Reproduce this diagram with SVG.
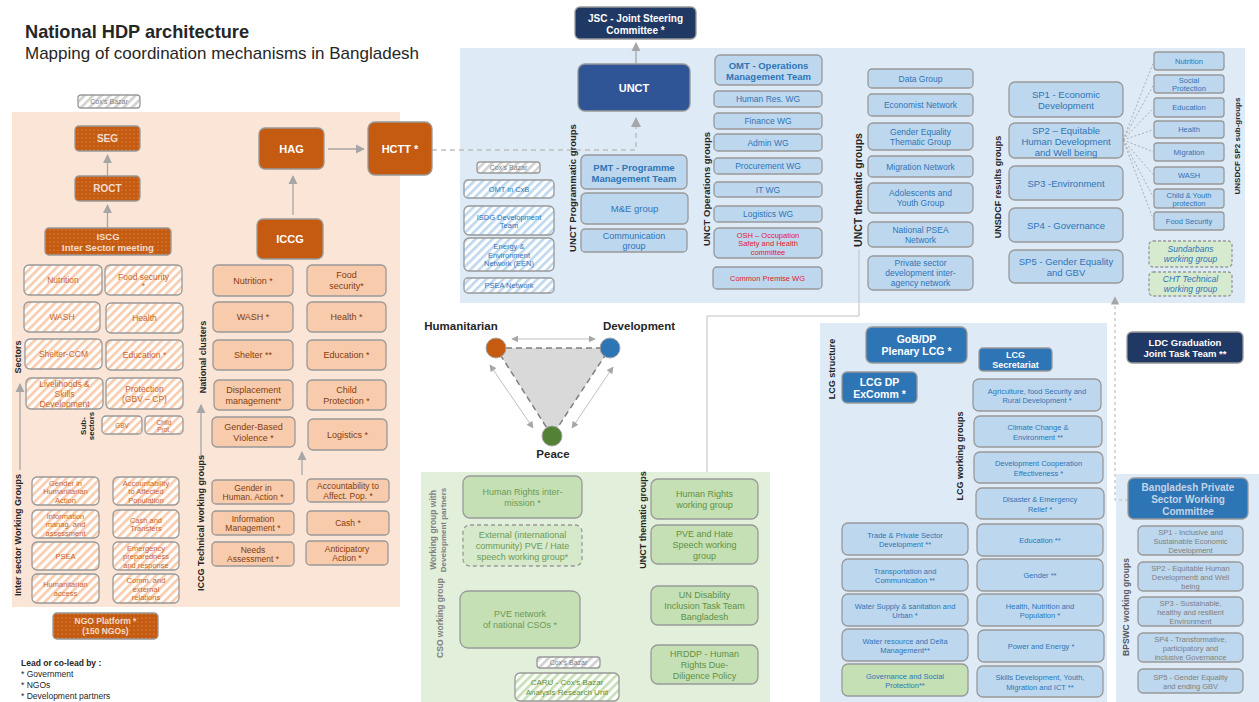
<svg xmlns="http://www.w3.org/2000/svg" width="1259" height="702" viewBox="0 0 1259 702">
<defs>
<style>
text{font-family:"Liberation Sans",Arial,sans-serif;text-anchor:middle;dominant-baseline:central}
.l{text-anchor:start;dominant-baseline:auto;fill:#262626}
.v{font-weight:bold;font-size:9px;fill:#262626}
.vg{font-weight:bold;font-size:8.5px;fill:#808080}
.bx{stroke:#999;stroke-width:1.3}
.oh{fill:url(#hO)}
.od{fill:url(#dO)}
.os{fill:#c55a11}
.oc{fill:#f8cbad}
.bh{fill:url(#hB)}
.gh{fill:url(#hG)}
.nh{fill:url(#hN)}
.lb{fill:#bdd7ee}
.gb{fill:#c5e0b4}
.db{fill:#2e75b6}
.nv{fill:#1f3864}
.to{fill:#c8662a;font-size:7.5px}
.tc{fill:#843c0c;font-size:9px}
.tw{fill:#fff;font-weight:bold}
.tf{fill:#f3dccb;font-weight:bold}
.tb{fill:#2e75b6}
.tr{fill:#e0202a;font-size:7.5px}
.tg{fill:#5f9144;font-size:9px}
.tgr{fill:#808080;font-size:7.5px}
.cx{fill:#7f7f7f;font-size:7px}
.conn{stroke:#a6a6a6;stroke-width:1.3;fill:none}
.dash{stroke:#bfbfbf;stroke-width:1.5;fill:none;stroke-dasharray:5,4}
.fan{stroke:#a6a6a6;stroke-width:0.9;fill:none;stroke-dasharray:2,2}
</style>
<pattern id="hO" width="6" height="6" patternUnits="userSpaceOnUse" patternTransform="rotate(45)"><rect width="6" height="6" fill="#fff"/><rect width="2.6" height="6" fill="#f8cbad"/></pattern>
<pattern id="hB" width="6" height="6" patternUnits="userSpaceOnUse" patternTransform="rotate(45)"><rect width="6" height="6" fill="#fff"/><rect width="2.6" height="6" fill="#bdd7ee"/></pattern>
<pattern id="hG" width="6" height="6" patternUnits="userSpaceOnUse" patternTransform="rotate(45)"><rect width="6" height="6" fill="#fff"/><rect width="2.6" height="6" fill="#d0d0d0"/></pattern>
<pattern id="hN" width="6" height="6" patternUnits="userSpaceOnUse" patternTransform="rotate(45)"><rect width="6" height="6" fill="#fff"/><rect width="2.6" height="6" fill="#c5e0b4"/></pattern>
<pattern id="dO" width="4" height="4" patternUnits="userSpaceOnUse"><rect width="4" height="4" fill="#c55a11"/><circle cx="2" cy="2" r="0.6" fill="#e6a77a"/></pattern>
<marker id="ah" viewBox="0 0 10 10" refX="9" refY="5" markerWidth="7" markerHeight="7" orient="auto-start-reverse"><path d="M0,0 L10,5 L0,10 z" fill="#a6a6a6"/></marker>
</defs>

<rect width="1259" height="702" fill="#fff"/>

<g id="title">
<text class="l" x="25" y="38" style="font-size:18.2px;font-weight:bold">National HDP architecture</text>
<text class="l" x="25" y="59" style="font-size:17px">Mapping of coordination mechanisms in Bangladesh</text>
</g>

<g id="panels">
<rect x="12" y="112" width="388" height="495" fill="#fbe5d6"/>
<rect x="460" y="48" width="785" height="255" fill="#deebf7"/>
<rect x="421" y="472" width="349" height="230" fill="#e2efda"/>
<rect x="820" y="323" width="287" height="379" fill="#deebf7"/>
<rect x="1116" y="474" width="143" height="228" fill="#deebf7"/>
</g>

<g id="connectors">
<line class="conn" x1="107.5" y1="176" x2="107.5" y2="155" marker-end="url(#ah)"/>
<line class="conn" x1="107.5" y1="228" x2="107.5" y2="205" marker-end="url(#ah)"/>
<line class="conn" x1="293" y1="215" x2="293" y2="176" marker-end="url(#ah)"/>
<line class="conn" x1="328" y1="149" x2="364" y2="149" marker-end="url(#ah)"/>
<line class="conn" x1="20" y1="470" x2="20" y2="384" marker-end="url(#ah)"/>
<line class="conn" x1="201" y1="458" x2="201" y2="405" marker-end="url(#ah)"/>
<line class="conn" x1="302" y1="475" x2="302" y2="452" marker-end="url(#ah)"/>
<line class="conn" x1="636" y1="64" x2="636" y2="43" marker-end="url(#ah)"/>
<path class="dash" d="M432,150 H636 V118" marker-end="url(#ah)"/>
<polyline class="conn" points="859,250 859,316 707,316 707,472" style="stroke:#bfbfbf;stroke-width:1"/>
<path class="dash" d="M1128,500 H1115 V297" marker-end="url(#ah)" style="stroke-width:1.2;stroke-dasharray:3,3"/>
<line class="fan" x1="1123" y1="140" x2="1154" y2="61"/>
<line class="fan" x1="1123" y1="140" x2="1154" y2="84"/>
<line class="fan" x1="1123" y1="140" x2="1154" y2="107.5"/>
<line class="fan" x1="1123" y1="140" x2="1154" y2="129.5"/>
<line class="fan" x1="1123" y1="140" x2="1154" y2="152"/>
<line class="fan" x1="1123" y1="140" x2="1154" y2="175.5"/>
<line class="fan" x1="1123" y1="140" x2="1154" y2="198.5"/>
<line class="fan" x1="1123" y1="140" x2="1154" y2="221"/>
<line class="conn" x1="512" y1="339" x2="595" y2="339" marker-start="url(#ah)" marker-end="url(#ah)" style="stroke:#bfbfbf;stroke-width:1"/>
<line class="conn" x1="490" y1="365" x2="533" y2="428" marker-start="url(#ah)" marker-end="url(#ah)" style="stroke:#bfbfbf;stroke-width:1"/>
<line class="conn" x1="613" y1="367" x2="572" y2="428" marker-start="url(#ah)" marker-end="url(#ah)" style="stroke:#bfbfbf;stroke-width:1"/>
</g>

<g id="coxs1"><rect class="bx gh" x="78" y="95" width="62" height="13" rx="3"/><text class="cx" x="109" y="101.5">Cox's Bazar</text></g>
<g id="seg"><rect class="bx od" x="75" y="126" width="65" height="25" rx="4"/><text class="tf" x="107.5" y="138.5" style="font-size:10px">SEG</text></g>
<g id="roct"><rect class="bx od" x="75" y="176" width="65" height="25" rx="4"/><text class="tf" x="107.5" y="188.5" style="font-size:10px">ROCT</text></g>
<g id="iscg"><rect class="bx od" x="45" y="228" width="126" height="27" rx="4"/><text class="tf" x="108" y="236" style="font-size:9.5px"><tspan x="108">ISCG</tspan><tspan x="108" dy="11">Inter Sector meeting</tspan></text></g>
<g id="hag"><rect class="bx os" x="259" y="128" width="65" height="41" rx="6"/><text class="tw" x="291.5" y="148.5" style="font-size:11px">HAG</text></g>
<g id="hctt"><rect class="bx os" x="368" y="122" width="64" height="53" rx="7"/><text class="tw" x="400" y="148.5" style="font-size:11px">HCTT *</text></g>
<g id="iccg"><rect class="bx os" x="257" y="219" width="66" height="40" rx="6"/><text class="tw" x="290" y="239" style="font-size:11px">ICCG</text></g>

<g id="sector-labels">
<text class="v" transform="translate(18,357) rotate(-90)">Sectors</text>
<text class="v" transform="translate(83,426) rotate(-90)" style="font-size:8px">Sub-</text>
<text class="v" transform="translate(91,426) rotate(-90)" style="font-size:8px">sectors</text>
<text class="v" transform="translate(18,535) rotate(-90)">Inter sector Working Groups</text>
<text class="v" transform="translate(203,357) rotate(-90)">National clusters</text>
<text class="v" transform="translate(201,523) rotate(-90)">ICCG Technical working groups</text>
</g>

<g id="s-nutrition"><rect class="bx oh" x="24" y="265" width="78" height="30" rx="5"/><text class="to" x="63" y="280" style="font-size:8.5px">Nutrition</text></g>
<g id="s-food"><rect class="bx oh" x="105" y="265" width="77" height="30" rx="5"/><text class="to" x="143.5" y="277" style="font-size:8.5px"><tspan x="143.5">Food security</tspan><tspan x="143.5" dy="9">*</tspan></text></g>
<g id="s-wash"><rect class="bx oh" x="24" y="302" width="76" height="30" rx="5"/><text class="to" x="62" y="317" style="font-size:8.5px">WASH</text></g>
<g id="s-health"><rect class="bx oh" x="106" y="303" width="77" height="30" rx="5"/><text class="to" x="144.5" y="318" style="font-size:8.5px">Health</text></g>
<g id="s-shelter"><rect class="bx oh" x="25" y="339" width="77" height="30" rx="5"/><text class="to" x="63.5" y="354" style="font-size:8.5px">Shelter-CCM</text></g>
<g id="s-edu"><rect class="bx oh" x="106" y="340" width="77" height="30" rx="5"/><text class="to" x="144.5" y="355" style="font-size:8.5px">Education *</text></g>
<g id="s-liv"><rect class="bx oh" x="26" y="378" width="77" height="31" rx="5"/><text class="to" x="64.5" y="383.5" style="font-size:8.5px"><tspan x="64.5">Livelihoods &amp;</tspan><tspan x="64.5" dy="10">Skills</tspan><tspan x="64.5" dy="10">Development</tspan></text></g>
<g id="s-prot"><rect class="bx oh" x="106" y="378" width="77" height="31" rx="5"/><text class="to" x="144.5" y="388.5" style="font-size:8.5px"><tspan x="144.5">Protection</tspan><tspan x="144.5" dy="10">(GBV – CP)</tspan></text></g>
<g id="s-gbv"><rect class="bx oh" x="102" y="416" width="40" height="18" rx="4"/><text class="to" x="122" y="425" style="font-size:6.5px">GBV</text></g>
<g id="s-cp"><rect class="bx oh" x="145" y="416" width="38" height="18" rx="4"/><text class="to" x="164" y="421.5" style="font-size:6.5px"><tspan x="164">Child</tspan><tspan x="164" dy="7">Prot.</tspan></text></g>

<g id="w-gender"><rect class="bx oh" x="32" y="477" width="67" height="28" rx="5"/><text class="to" x="65.5" y="482.5"><tspan x="65.5">Gender in</tspan><tspan x="65.5" dy="8.5">Humanitarian</tspan><tspan x="65.5" dy="8.5">Action</tspan></text></g>
<g id="w-aap"><rect class="bx oh" x="113" y="477" width="66" height="28" rx="5"/><text class="to" x="146" y="482.5"><tspan x="146">Accountability</tspan><tspan x="146" dy="8.5">to Affected</tspan><tspan x="146" dy="8.5">Population</tspan></text></g>
<g id="w-im"><rect class="bx oh" x="32" y="510" width="67" height="28" rx="5"/><text class="to" x="65.5" y="515.5"><tspan x="65.5">Information</tspan><tspan x="65.5" dy="8.5">manag. and</tspan><tspan x="65.5" dy="8.5">assessment</tspan></text></g>
<g id="w-cash"><rect class="bx oh" x="113" y="510" width="66" height="28" rx="5"/><text class="to" x="146" y="519.8"><tspan x="146">Cash and</tspan><tspan x="146" dy="8.5">Transfers</tspan></text></g>
<g id="w-psea"><rect class="bx oh" x="32" y="542" width="67" height="28" rx="5"/><text class="to" x="65.5" y="556">PSEA</text></g>
<g id="w-epr"><rect class="bx oh" x="113" y="542" width="66" height="28" rx="5"/><text class="to" x="146" y="547.5"><tspan x="146">Emergency</tspan><tspan x="146" dy="8.5">preparedness</tspan><tspan x="146" dy="8.5">and response</tspan></text></g>
<g id="w-access"><rect class="bx oh" x="32" y="574" width="67" height="29" rx="5"/><text class="to" x="65.5" y="584.3"><tspan x="65.5">Humanitarian</tspan><tspan x="65.5" dy="8.5">access</tspan></text></g>
<g id="w-comm"><rect class="bx oh" x="113" y="574" width="66" height="29" rx="5"/><text class="to" x="146" y="580"><tspan x="146">Comm. and</tspan><tspan x="146" dy="8.5">external</tspan><tspan x="146" dy="8.5">relations</tspan></text></g>

<g id="ngo"><rect class="bx od" x="53" y="613" width="105" height="26" rx="4"/><text class="tf" x="105.5" y="621" style="font-size:8.5px"><tspan x="105.5">NGO Platform *</tspan><tspan x="105.5" dy="10">(150 NGOs)</tspan></text></g>

<g id="legend">
<text class="l" x="21" y="666" style="font-size:8.5px;font-weight:bold">Lead or co-lead by :</text>
<text class="l" x="21" y="677" style="font-size:8.5px">* Government</text>
<text class="l" x="21" y="688" style="font-size:8.5px">* NGOs</text>
<text class="l" x="21" y="699" style="font-size:8.5px">* Development partners</text>
</g>

<g id="c-nut"><rect class="bx oc" x="213" y="265" width="80" height="31" rx="5"/><text class="tc" x="253" y="280.5">Nutrition *</text></g>
<g id="c-food"><rect class="bx oc" x="307" y="265" width="79" height="31" rx="5"/><text class="tc" x="346.5" y="275"><tspan x="346.5">Food</tspan><tspan x="346.5" dy="11">security*</tspan></text></g>
<g id="c-wash"><rect class="bx oc" x="213" y="302" width="80" height="30" rx="5"/><text class="tc" x="253" y="317">WASH *</text></g>
<g id="c-health"><rect class="bx oc" x="307" y="302" width="79" height="30" rx="5"/><text class="tc" x="346.5" y="317">Health *</text></g>
<g id="c-shelter"><rect class="bx oc" x="213" y="340" width="80" height="30" rx="5"/><text class="tc" x="253" y="355">Shelter **</text></g>
<g id="c-edu"><rect class="bx oc" x="307" y="340" width="79" height="30" rx="5"/><text class="tc" x="346.5" y="355">Education *</text></g>
<g id="c-disp"><rect class="bx oc" x="214" y="380" width="79" height="30" rx="5"/><text class="tc" x="253.5" y="390"><tspan x="253.5">Displacement</tspan><tspan x="253.5" dy="10.5">management*</tspan></text></g>
<g id="c-cp"><rect class="bx oc" x="307" y="380" width="79" height="30" rx="5"/><text class="tc" x="346.5" y="390"><tspan x="346.5">Child</tspan><tspan x="346.5" dy="10.5">Protection *</tspan></text></g>
<g id="c-gbv"><rect class="bx oc" x="212" y="417" width="83" height="30" rx="5"/><text class="tc" x="253.5" y="427"><tspan x="253.5">Gender-Based</tspan><tspan x="253.5" dy="10.5">Violence  *</tspan></text></g>
<g id="c-log"><rect class="bx oc" x="308" y="419" width="79" height="31" rx="5"/><text class="tc" x="347.5" y="434.5">Logistics *</text></g>

<g id="t-gender"><rect class="bx oc" x="212" y="480" width="82" height="24" rx="4"/><text class="tc" x="253" y="487.5" style="font-size:8.5px"><tspan x="253">Gender in</tspan><tspan x="253" dy="9.5">Human. Action *</tspan></text></g>
<g id="t-aap"><rect class="bx oc" x="307" y="479" width="82" height="23" rx="4"/><text class="tc" x="348" y="486" style="font-size:8.5px"><tspan x="348">Accountability to</tspan><tspan x="348" dy="9.5">Affect. Pop. *</tspan></text></g>
<g id="t-im"><rect class="bx oc" x="212" y="511" width="82" height="24" rx="4"/><text class="tc" x="253" y="518.5" style="font-size:8.5px"><tspan x="253">Information</tspan><tspan x="253" dy="9.5">Management *</tspan></text></g>
<g id="t-cash"><rect class="bx oc" x="307" y="511" width="82" height="24" rx="4"/><text class="tc" x="348" y="523" style="font-size:8.5px">Cash *</text></g>
<g id="t-needs"><rect class="bx oc" x="212" y="542" width="82" height="24" rx="4"/><text class="tc" x="253" y="549.5" style="font-size:8.5px"><tspan x="253">Needs</tspan><tspan x="253" dy="9.5">Assessment *</tspan></text></g>
<g id="t-antic"><rect class="bx oc" x="306" y="541" width="82" height="24" rx="4"/><text class="tc" x="347" y="548.5" style="font-size:8.5px"><tspan x="347">Anticipatory</tspan><tspan x="347" dy="9.5">Action *</tspan></text></g>

<g id="jsc"><rect class="bx nv" x="575" y="7" width="121" height="32" rx="5"/><text class="tw" x="635.5" y="17.5" style="font-size:10px"><tspan x="635.5">JSC - Joint Steering</tspan><tspan x="635.5" dy="12">Committee *</tspan></text></g>
<g id="unct"><rect class="bx" x="578" y="64" width="112" height="47" rx="7" fill="#2f5597"/><text class="tw" x="634" y="87.5" style="font-size:11px">UNCT</text></g>

<g id="un-labels">
<text class="v" transform="translate(572,188) rotate(-90)" style="font-size:9.5px">UNCT Programmatic groups</text>
<text class="v" transform="translate(706,189) rotate(-90)" style="font-size:9.5px">UNCT Operations groups</text>
<text class="v" transform="translate(858,190) rotate(-90)" style="font-size:10.5px">UNCT thematic groups</text>
<text class="v" transform="translate(998,187) rotate(-90)">UNSDCF results groups</text>
<text class="v" transform="translate(1237,146) rotate(-90)" style="font-size:8px">UNSDCF SP2 sub-groups</text>
</g>

<g id="coxs2"><rect class="bx gh" x="477" y="162" width="63" height="11" rx="3"/><text class="cx" x="508.5" y="167.5">Cox's Bazar</text></g>
<g id="omt-cxb"><rect class="bx bh" x="464" y="180" width="90" height="18" rx="4"/><text class="tb" x="509" y="189" style="font-size:7.5px">OMT in CxB</text></g>
<g id="isdg"><rect class="bx bh" x="464" y="206" width="90" height="29" rx="5"/><text class="tb" x="509" y="216.5" style="font-size:7.5px"><tspan x="509">ISDG Development</tspan><tspan x="509" dy="8.5">Team</tspan></text></g>
<g id="een"><rect class="bx bh" x="464" y="238" width="90" height="33" rx="5"/><text class="tb" x="509" y="246" style="font-size:7.5px"><tspan x="509">Energy &amp;</tspan><tspan x="509" dy="8.5">Environment</tspan><tspan x="509" dy="8.5">Network (EEN)</tspan></text></g>
<g id="psea-net"><rect class="bx bh" x="464" y="278" width="90" height="15" rx="4"/><text class="tb" x="509" y="285.5" style="font-size:7.5px">PSEA Network</text></g>

<g id="pmt"><rect class="bx lb" x="581" y="155" width="106" height="34" rx="5"/><text class="tb" x="634" y="167" style="font-size:9.5px;font-weight:bold"><tspan x="634">PMT - Programme</tspan><tspan x="634" dy="11">Management Team</tspan></text></g>
<g id="me"><rect class="bx lb" x="581" y="193" width="107" height="31" rx="5"/><text class="tb" x="634.5" y="208.5" style="font-size:9.5px">M&amp;E group</text></g>
<g id="comm"><rect class="bx lb" x="581" y="229" width="106" height="23" rx="4"/><text class="tb" x="634" y="235.5" style="font-size:9px"><tspan x="634">Communication</tspan><tspan x="634" dy="10.5">group</tspan></text></g>

<g id="omt"><rect class="bx lb" x="715" y="55" width="107" height="30" rx="5"/><text class="tb" x="768.5" y="64.5" style="font-size:9.5px;font-weight:bold"><tspan x="768.5">OMT - Operations</tspan><tspan x="768.5" dy="11">Management Team</tspan></text></g>
<g id="hr-wg"><rect class="bx lb" x="714" y="91" width="108" height="16" rx="4"/><text class="tb" x="768" y="99" style="font-size:8.5px">Human Res. WG</text></g>
<g id="fin-wg"><rect class="bx lb" x="714" y="113" width="108" height="16" rx="4"/><text class="tb" x="768" y="121" style="font-size:8.5px">Finance WG</text></g>
<g id="adm-wg"><rect class="bx lb" x="714" y="134" width="108" height="17" rx="4"/><text class="tb" x="768" y="142.5" style="font-size:8.5px">Admin WG</text></g>
<g id="proc-wg"><rect class="bx lb" x="714" y="158" width="108" height="16" rx="4"/><text class="tb" x="768" y="166" style="font-size:8.5px">Procurement WG</text></g>
<g id="it-wg"><rect class="bx lb" x="714" y="182" width="108" height="15" rx="4"/><text class="tb" x="768" y="189.5" style="font-size:8.5px">IT WG</text></g>
<g id="log-wg"><rect class="bx lb" x="714" y="206" width="108" height="16" rx="4"/><text class="tb" x="768" y="214" style="font-size:8.5px">Logistics WG</text></g>
<g id="osh"><rect class="bx lb" x="714" y="228" width="108" height="30" rx="5"/><text class="tr" x="768" y="234.5"><tspan x="768">OSH – Occupation</tspan><tspan x="768" dy="8.5">Safety and Health</tspan><tspan x="768" dy="8.5">committee</tspan></text></g>
<g id="cp-wg"><rect class="bx lb" x="713" y="267" width="109" height="22" rx="4"/><text class="tr" x="767.5" y="278">Common Premise WG</text></g>

<g id="data"><rect class="bx lb" x="868" y="69" width="105" height="19" rx="4"/><text class="tb" x="920.5" y="78.5" style="font-size:8.5px">Data Group</text></g>
<g id="econ"><rect class="bx lb" x="868" y="94" width="105" height="22" rx="4"/><text class="tb" x="920.5" y="105" style="font-size:8.5px">Economist Network</text></g>
<g id="getg"><rect class="bx lb" x="868" y="123" width="105" height="27" rx="5"/><text class="tb" x="920.5" y="131.5" style="font-size:8.5px"><tspan x="920.5">Gender Equality</tspan><tspan x="920.5" dy="10">Thematic Group</tspan></text></g>
<g id="migr"><rect class="bx lb" x="868" y="156" width="105" height="21" rx="4"/><text class="tb" x="920.5" y="166.5" style="font-size:8.5px">Migration Network</text></g>
<g id="ado"><rect class="bx lb" x="868" y="183" width="105" height="30" rx="5"/><text class="tb" x="920.5" y="193" style="font-size:8.5px"><tspan x="920.5">Adolescents and</tspan><tspan x="920.5" dy="10">Youth Group</tspan></text></g>
<g id="npsea"><rect class="bx lb" x="868" y="222" width="105" height="25" rx="5"/><text class="tb" x="920.5" y="229.5" style="font-size:8.5px"><tspan x="920.5">National PSEA</tspan><tspan x="920.5" dy="10">Network</tspan></text></g>
<g id="psd"><rect class="bx lb" x="868" y="256" width="105" height="34" rx="5"/><text class="tb" x="920.5" y="263" style="font-size:8.5px"><tspan x="920.5">Private sector</tspan><tspan x="920.5" dy="10">development inter-</tspan><tspan x="920.5" dy="10">agency network</tspan></text></g>

<g id="sp1"><rect class="bx lb" x="1009" y="82" width="114" height="35" rx="6"/><text class="tb" x="1066" y="94" style="font-size:9.5px"><tspan x="1066">SP1 - Economic</tspan><tspan x="1066" dy="11">Development</tspan></text></g>
<g id="sp2"><rect class="bx lb" x="1009" y="123" width="114" height="35" rx="6"/><text class="tb" x="1066" y="129.5" style="font-size:9.5px"><tspan x="1066">SP2 – Equitable</tspan><tspan x="1066" dy="11">Human Development</tspan><tspan x="1066" dy="11">and Well being</tspan></text></g>
<g id="sp3"><rect class="bx lb" x="1009" y="166" width="114" height="34" rx="6"/><text class="tb" x="1066" y="183" style="font-size:9.5px">SP3 -Environment</text></g>
<g id="sp4"><rect class="bx lb" x="1009" y="208" width="114" height="34" rx="6"/><text class="tb" x="1066" y="225" style="font-size:9.5px">SP4 - Governance</text></g>
<g id="sp5"><rect class="bx lb" x="1009" y="250" width="114" height="33" rx="6"/><text class="tb" x="1066" y="261" style="font-size:9.5px"><tspan x="1066">SP5 - Gender Equality</tspan><tspan x="1066" dy="11">and GBV</tspan></text></g>

<g id="sg-nut"><rect class="bx lb" x="1154" y="52" width="70" height="18" rx="3"/><text class="tb" x="1189" y="61" style="font-size:7.5px">Nutrition</text></g>
<g id="sg-sp"><rect class="bx lb" x="1154" y="75" width="70" height="18" rx="3"/><text class="tb" x="1189" y="80" style="font-size:7.5px"><tspan x="1189">Social</tspan><tspan x="1189" dy="8">Protection</tspan></text></g>
<g id="sg-edu"><rect class="bx lb" x="1154" y="98" width="70" height="19" rx="3"/><text class="tb" x="1189" y="107.5" style="font-size:7.5px">Education</text></g>
<g id="sg-health"><rect class="bx lb" x="1154" y="121" width="70" height="17" rx="3"/><text class="tb" x="1189" y="129.5" style="font-size:7.5px">Health</text></g>
<g id="sg-migr"><rect class="bx lb" x="1154" y="143" width="70" height="18" rx="3"/><text class="tb" x="1189" y="152" style="font-size:7.5px">Migration</text></g>
<g id="sg-wash"><rect class="bx lb" x="1154" y="167" width="70" height="17" rx="3"/><text class="tb" x="1189" y="175.5" style="font-size:7.5px">WASH</text></g>
<g id="sg-cyp"><rect class="bx lb" x="1154" y="189" width="70" height="19" rx="3"/><text class="tb" x="1189" y="194.5" style="font-size:7.5px"><tspan x="1189">Child &amp; Youth</tspan><tspan x="1189" dy="8">protection</tspan></text></g>
<g id="sg-food"><rect class="bx lb" x="1154" y="212" width="70" height="18" rx="3"/><text class="tb" x="1189" y="221" style="font-size:7.5px">Food Security</text></g>
<g id="sundarbans"><rect class="bx" x="1149" y="241" width="83" height="26" rx="4" fill="#d6ead0" style="stroke-dasharray:3,2"/><text class="tb" x="1190.5" y="249" style="font-size:8.5px;font-style:italic"><tspan x="1190.5">Sundarbans</tspan><tspan x="1190.5" dy="10">working group</tspan></text></g>
<g id="cht"><rect class="bx" x="1149" y="272" width="83" height="24" rx="4" fill="#d6ead0" style="stroke-dasharray:3,2"/><text class="tb" x="1190.5" y="279" style="font-size:8.5px;font-style:italic"><tspan x="1190.5">CHT Technical</tspan><tspan x="1190.5" dy="10">working group</tspan></text></g>

<g id="hdp-triangle">
<polygon points="496,348 610,348 552,436" fill="#d9d9d9" stroke="#7f7f7f" stroke-width="1.5" stroke-dasharray="6,4"/>
</g>
<g id="humanitarian"><circle cx="496" cy="348" r="10" fill="#c55a11" stroke="#a6a6a6"/><text x="461" y="326" style="font-size:11.5px;font-weight:bold;fill:#262626">Humanitarian</text></g>
<g id="development"><circle cx="610" cy="348" r="10" fill="#2e75b6" stroke="#a6a6a6"/><text x="639" y="326" style="font-size:11.5px;font-weight:bold;fill:#262626">Development</text></g>
<g id="peace"><circle cx="552" cy="436" r="10" fill="#538135" stroke="#a6a6a6"/><text x="553" y="454" style="font-size:11.5px;font-weight:bold;fill:#262626">Peace</text></g>

<g id="green-labels">
<text class="vg" transform="translate(433,530) rotate(-90)">Working group with</text>
<text class="vg" transform="translate(443,530) rotate(-90)" style="font-size:8px">Development partners</text>
<text class="vg" transform="translate(440,618) rotate(-90)">CSO working group</text>
<text class="v" transform="translate(643,520) rotate(-90)">UNCT thematic groups</text>
</g>
<g id="hr-inter"><rect class="bx gb" x="463" y="476" width="119" height="42" rx="7"/><text class="tg" x="522.5" y="491.5" style="fill:#6d9a55"><tspan x="522.5">Human Rights inter-</tspan><tspan x="522.5" dy="11">mission *</tspan></text></g>
<g id="ext-pve"><rect class="bx" x="463" y="525" width="119" height="41" rx="7" fill="#d6e9ca" style="stroke-dasharray:4,3"/><text class="tg" x="522.5" y="534.5" style="fill:#6d9a55"><tspan x="522.5">External (international</tspan><tspan x="522.5" dy="11">community) PVE / Hate</tspan><tspan x="522.5" dy="11">speech working group*</tspan></text></g>
<g id="pve-cso"><rect class="bx gb" x="460" y="591" width="120" height="57" rx="8"/><text class="tg" x="520" y="614" style="fill:#6d9a55"><tspan x="520">PVE network</tspan><tspan x="520" dy="11">of national CSOs *</tspan></text></g>
<g id="coxs3"><rect class="bx gh" x="537" y="657" width="63" height="11" rx="3"/><text class="cx" x="568.5" y="662.5">Cox's Bazar</text></g>
<g id="caru"><rect class="bx nh" x="515" y="673" width="104" height="28" rx="5"/><text class="tg" x="567" y="682" style="font-size:8px"><tspan x="567">CARU - Cox's Bazar</tspan><tspan x="567" dy="10">Analysis Research Unit</tspan></text></g>
<g id="hr-wg2"><rect class="bx gb" x="651" y="479" width="107" height="40" rx="7"/><text class="tg" x="704.5" y="493.5"><tspan x="704.5">Human Rights</tspan><tspan x="704.5" dy="11">working group</tspan></text></g>
<g id="pve-wg"><rect class="bx gb" x="651" y="525" width="107" height="39" rx="7"/><text class="tg" x="704.5" y="533.5"><tspan x="704.5">PVE and Hate</tspan><tspan x="704.5" dy="11">Speech working</tspan><tspan x="704.5" dy="11">group</tspan></text></g>
<g id="disab"><rect class="bx gb" x="651" y="586" width="107" height="39" rx="7"/><text class="tg" x="704.5" y="594.5"><tspan x="704.5">UN Disability</tspan><tspan x="704.5" dy="11">Inclusion Task Team</tspan><tspan x="704.5" dy="11">Bangladesh</tspan></text></g>
<g id="hrddp"><rect class="bx gb" x="651" y="645" width="107" height="39" rx="7"/><text class="tg" x="704.5" y="653.5"><tspan x="704.5">HRDDP - Human</tspan><tspan x="704.5" dy="11">Rights Due-</tspan><tspan x="704.5" dy="11">Diligence Policy</tspan></text></g>

<g id="lcg-labels">
<text class="v" transform="translate(832,369) rotate(-90)">LCG structure</text>
<text class="v" transform="translate(960,456) rotate(-90)">LCG working groups</text>
<text class="v" transform="translate(1126,607) rotate(-90)" style="font-size:8.5px;fill:#595959">BPSWC working groups</text>
</g>
<g id="plenary"><rect class="bx db" x="866" y="327" width="101" height="36" rx="6"/><text class="tw" x="916.5" y="339" style="font-size:10.5px"><tspan x="916.5">GoB/DP</tspan><tspan x="916.5" dy="12">Plenary LCG *</tspan></text></g>
<g id="excomm"><rect class="bx db" x="842" y="372" width="75" height="31" rx="5"/><text class="tw" x="879.5" y="381.5" style="font-size:10.5px"><tspan x="879.5">LCG DP</tspan><tspan x="879.5" dy="12">ExComm *</tspan></text></g>
<g id="secretariat"><rect class="bx db" x="979" y="348" width="73" height="23" rx="4"/><text class="tw" x="1015.5" y="354.5" style="font-size:9px"><tspan x="1015.5">LCG</tspan><tspan x="1015.5" dy="10">Secretariat</tspan></text></g>

<g id="lcg-agri"><rect class="bx lb" x="973" y="379" width="128" height="32" rx="6"/><text class="tb" x="1037" y="390.5" style="font-size:7.5px"><tspan x="1037">Agriculture, food Security and</tspan><tspan x="1037" dy="9.5">Rural Development  *</tspan></text></g>
<g id="lcg-cc"><rect class="bx lb" x="974" y="416" width="128" height="31" rx="6"/><text class="tb" x="1038" y="427" style="font-size:7.5px"><tspan x="1038">Climate Change &amp;</tspan><tspan x="1038" dy="9.5">Environment **</tspan></text></g>
<g id="lcg-dce"><rect class="bx lb" x="974" y="452" width="129" height="31" rx="6"/><text class="tb" x="1038.5" y="463" style="font-size:7.5px"><tspan x="1038.5">Development Cooperation</tspan><tspan x="1038.5" dy="9.5">Effectiveness *</tspan></text></g>
<g id="lcg-der"><rect class="bx lb" x="976" y="488" width="128" height="31" rx="6"/><text class="tb" x="1040" y="499" style="font-size:7.5px"><tspan x="1040">Disaster &amp; Emergency</tspan><tspan x="1040" dy="9.5">Relief *</tspan></text></g>
<g id="lcg-edu"><rect class="bx lb" x="977" y="524" width="126" height="32" rx="6"/><text class="tb" x="1040" y="540" style="font-size:7.5px">Education **</text></g>
<g id="lcg-gender"><rect class="bx lb" x="977" y="559" width="126" height="32" rx="6"/><text class="tb" x="1040" y="575" style="font-size:7.5px">Gender **</text></g>
<g id="lcg-hnp"><rect class="bx lb" x="977" y="594" width="126" height="32" rx="6"/><text class="tb" x="1040" y="605.5" style="font-size:7.5px"><tspan x="1040">Health, Nutrition and</tspan><tspan x="1040" dy="9.5">Population *</tspan></text></g>
<g id="lcg-power"><rect class="bx lb" x="978" y="630" width="126" height="32" rx="6"/><text class="tb" x="1041" y="646" style="font-size:7.5px">Power and Energy *</text></g>
<g id="lcg-skills"><rect class="bx lb" x="977" y="666" width="126" height="31" rx="6"/><text class="tb" x="1040" y="677" style="font-size:7.5px"><tspan x="1040">Skills Development, Youth,</tspan><tspan x="1040" dy="9.5">Migration and ICT **</tspan></text></g>
<g id="lcg-trade"><rect class="bx lb" x="842" y="523" width="126" height="32" rx="6"/><text class="tb" x="905" y="534.5" style="font-size:7.5px"><tspan x="905">Trade &amp; Private Sector</tspan><tspan x="905" dy="9.5">Development **</tspan></text></g>
<g id="lcg-trans"><rect class="bx lb" x="842" y="559" width="126" height="32" rx="6"/><text class="tb" x="905" y="570.5" style="font-size:7.5px"><tspan x="905">Transportation and</tspan><tspan x="905" dy="9.5">Communication **</tspan></text></g>
<g id="lcg-water"><rect class="bx lb" x="842" y="594" width="126" height="32" rx="6"/><text class="tb" x="905" y="605.5" style="font-size:7.5px"><tspan x="905">Water Supply &amp; sanitation and</tspan><tspan x="905" dy="9.5">Urban *</tspan></text></g>
<g id="lcg-delta"><rect class="bx lb" x="842" y="629" width="126" height="32" rx="6"/><text class="tb" x="905" y="640.5" style="font-size:7.5px"><tspan x="905">Water resource and Delta</tspan><tspan x="905" dy="9.5">Management**</tspan></text></g>
<g id="lcg-gov"><rect class="bx gb" x="842" y="664" width="126" height="32" rx="6"/><text class="tb" x="905" y="675.5" style="font-size:7.5px"><tspan x="905">Governance and Social</tspan><tspan x="905" dy="9.5">Protection**</tspan></text></g>

<g id="ldc"><rect class="bx nv" x="1127" y="332" width="116" height="31" rx="5"/><text class="tw" x="1185" y="342" style="font-size:9.5px"><tspan x="1185">LDC Graduation</tspan><tspan x="1185" dy="11">Joint Task Team **</tspan></text></g>

<g id="bpswc"><rect class="bx db" x="1128" y="478" width="120" height="41" rx="6"/><text x="1188" y="486.5" style="font-size:10px;font-weight:bold;fill:#c3d3e6"><tspan x="1188">Bangladesh Private</tspan><tspan x="1188" dy="12">Sector Working</tspan><tspan x="1188" dy="12">Committee</tspan></text></g>
<g id="b-sp1"><rect class="bx lb" x="1138" y="526" width="105" height="29" rx="5"/><text class="tgr" x="1190.5" y="531.5"><tspan x="1190.5">SP1 - Inclusive and</tspan><tspan x="1190.5" dy="9">Sustainable Economic</tspan><tspan x="1190.5" dy="9">Development</tspan></text></g>
<g id="b-sp2"><rect class="bx lb" x="1138" y="562" width="105" height="29" rx="5"/><text class="tgr" x="1190.5" y="567.5"><tspan x="1190.5">SP2 - Equitable Human</tspan><tspan x="1190.5" dy="9">Developmentt and Well</tspan><tspan x="1190.5" dy="9">being</tspan></text></g>
<g id="b-sp3"><rect class="bx lb" x="1138" y="597" width="105" height="29" rx="5"/><text class="tgr" x="1190.5" y="602.5"><tspan x="1190.5">SP3 - Sustainable,</tspan><tspan x="1190.5" dy="9">healthy and resilient</tspan><tspan x="1190.5" dy="9">Environment</tspan></text></g>
<g id="b-sp4"><rect class="bx lb" x="1138" y="633" width="105" height="29" rx="5"/><text class="tgr" x="1190.5" y="638.5"><tspan x="1190.5">SP4 - Transformative,</tspan><tspan x="1190.5" dy="9">participatory and</tspan><tspan x="1190.5" dy="9">inclusive Governance</tspan></text></g>
<g id="b-sp5"><rect class="bx lb" x="1138" y="669" width="105" height="24" rx="5"/><text class="tgr" x="1190.5" y="676.5"><tspan x="1190.5">SP5 - Gender Equality</tspan><tspan x="1190.5" dy="9">and ending GBV</tspan></text></g>
</svg>
